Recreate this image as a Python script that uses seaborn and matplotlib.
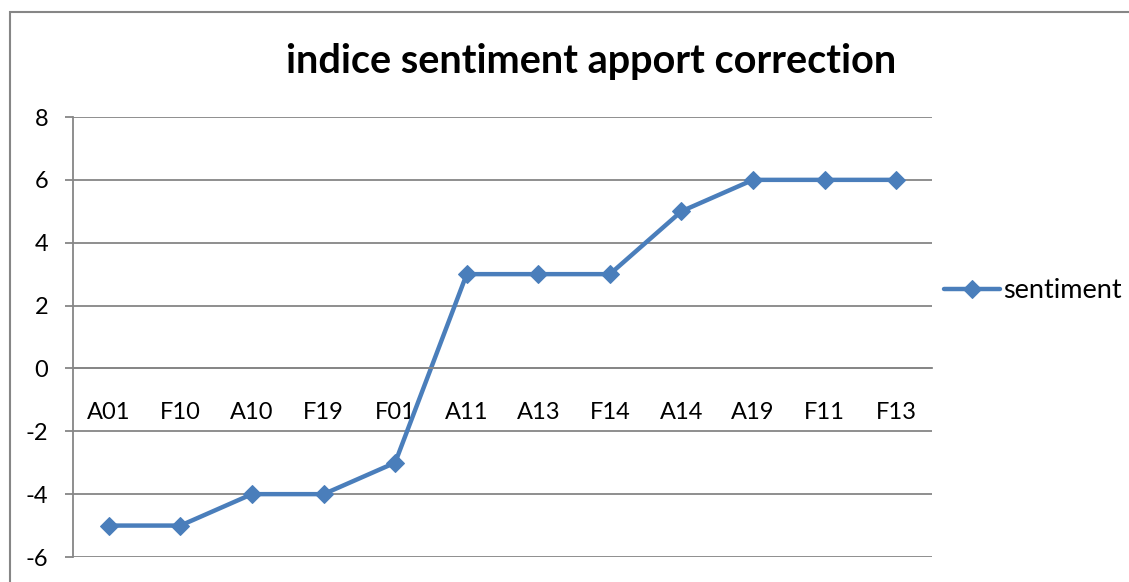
import numpy as np
import pandas as pd
import seaborn as sns
import matplotlib.pyplot as plt
from matplotlib.patches import Rectangle
from matplotlib.ticker import MultipleLocator, FixedLocator

categories = ['A01', 'F10', 'A10', 'F19', 'F01', 'A11', 'A13', 'F14', 'A14', 'A19', 'F11', 'F13']
sentiment = [-5, -5, -4, -4, -3, 3, 3, 3, 5, 6, 6, 6]

sns.set_style('white')
plt.rcParams['font.family'] = ['Lato', 'DejaVu Sans']
plt.rcParams['axes.unicode_minus'] = False

grid_col = '#868686'
line_col = '#4A7EBB'

fig = plt.figure(figsize=(11.29, 5.82), dpi=100)
ax = fig.add_axes([73 / 1129, 1 - 557 / 582, (932 - 73) / 1129, (557 - 117) / 582])

df = pd.DataFrame({'cat': categories, 'sentiment': sentiment})
df['pos'] = np.arange(len(categories))
sns.lineplot(data=df, x='pos', y='sentiment', ax=ax, sort=False, color=line_col,
             linewidth=3.2, marker='D', markersize=9, markeredgecolor=line_col,
             label='sentiment')

ax.set_xlim(-0.5, len(categories) - 0.5)
ax.set_ylim(-6, 8)
ax.yaxis.set_major_locator(MultipleLocator(2))
ax.grid(axis='y', color=grid_col, linewidth=1.3)
ax.set_axisbelow(True)

# x axis sits at y = 0, like the Excel chart
ax.spines['bottom'].set_position(('data', 0))
for s in ['top', 'right']:
    ax.spines[s].set_visible(False)
for s in ['left', 'bottom']:
    ax.spines[s].set_color(grid_col)
    ax.spines[s].set_linewidth(1.3)

ax.set_xticks(df['pos'])
ax.set_xticklabels(categories)
ax.xaxis.set_minor_locator(FixedLocator(np.arange(-0.5, len(categories), 1.0)))
ax.tick_params(axis='x', which='major', length=0, pad=24, labelsize=17, labelcolor='black')
ax.tick_params(axis='x', which='minor', length=6, width=1.3, color=grid_col, direction='out')
ax.tick_params(axis='y', length=6, width=1.3, color=grid_col, labelsize=17, pad=12,
               left=True, labelcolor='black')
ax.set_xlabel('')
ax.set_ylabel('')

leg = ax.legend(loc='center left', bbox_to_anchor=(944 / 1129, 1 - 291 / 582),
                bbox_transform=fig.transFigure, frameon=False, fontsize=19.5,
                handlelength=2.05, handletextpad=0.15, borderpad=0, borderaxespad=0)
for t in leg.get_texts():
    t.set_color('black')

fig.text(591 / 1129, 1 - 61 / 582, 'indice sentiment apport correction',
         ha='center', va='center', fontsize=28.5, fontweight='bold', color='black')

fig.patches.append(Rectangle((10 / 1129, -0.1), 1.2, 1 - 12 / 582 + 0.1,
                             transform=fig.transFigure, fill=False,
                             edgecolor=grid_col, linewidth=1.5))

plt.savefig('out.png', dpi=100)
